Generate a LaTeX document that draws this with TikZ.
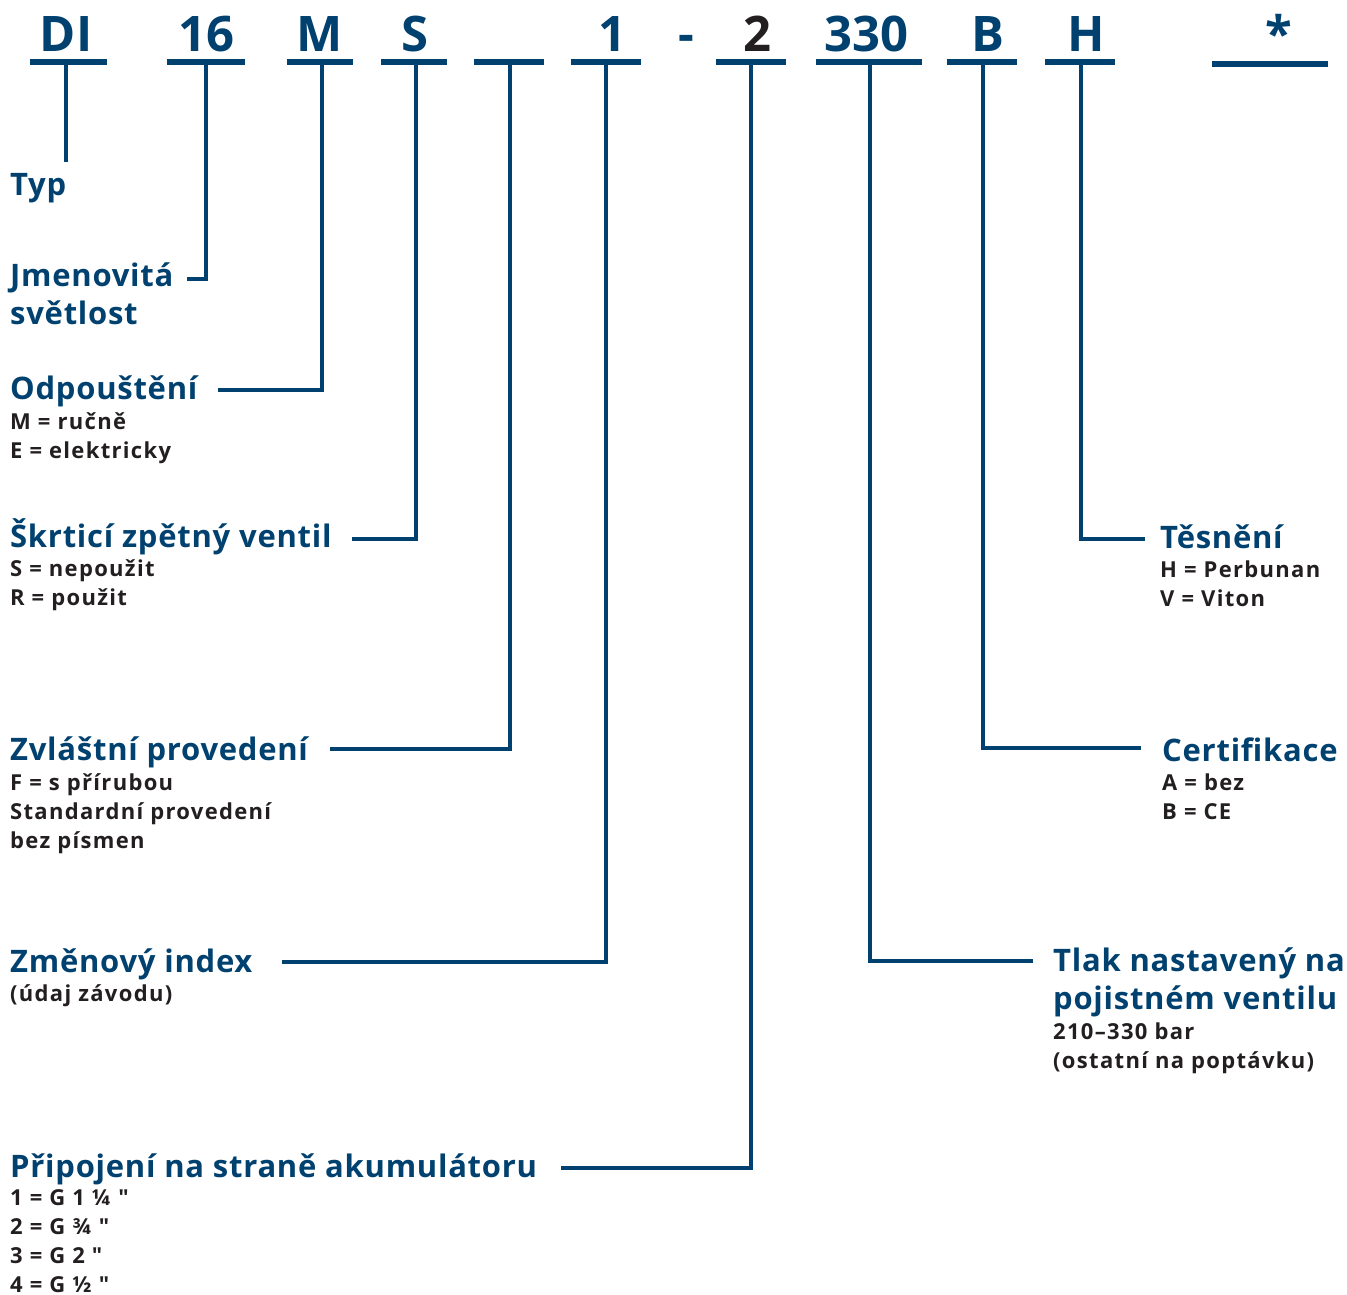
\documentclass[tikz,border=0pt]{standalone}
\usepackage{fontspec}
\newfontfamily\hydfont{Open Sans}
\newfontfamily\hydtitlefont{Open Sans}[LetterSpace=2.4]
\newfontfamily\hydnotefont{Open Sans}[LetterSpace=6]
\usetikzlibrary{positioning}
\definecolor{hydblue}{HTML}{00416F}
\definecolor{hydink}{HTML}{231F20}
\tikzset{
    code/.style ={
        font=\hydfont\fontsize{49}{49}\selectfont\bfseries,
        text=hydblue,
        anchor=base,
        inner sep=0pt
    },
    title/.style ={
        font=\hydtitlefont\fontsize{31}{38}\selectfont\bfseries,
        text=hydblue,
        anchor=base west,
        align=left,
        inner sep=0pt
    },
    note/.style ={
        font=\hydnotefont\fontsize{22}{29}\selectfont\bfseries,
        text=hydink,
        anchor=base west,
        align=left,
        inner sep=0pt
    },
    bar/.style ={
        line width=6pt,
        hydblue
    },
    lead/.style ={
        line width=4.5pt,
        hydblue
    }
}

\begin{document}
\begin{tikzpicture}[x=1pt,y=-1pt]
    \useasboundingbox (0,0) rectangle (1347,1295);
    % type code
    \node[code] (di) at(66,52) {DI};
    \node[code] (dn) at(206,52) {16};
    \node[code] (m) at(320,52) {M};
    \node[code] (s) at(415,52) {S};
    \node[code] (one) at(612,52) {1};
    \node[code] (dash) at(686,52) {-};
    \node[code,text=hydink] (two) at(757,52) {2};
    \node[code] (p) at(866,52) {330};
    \node[code] (b) at(988,52) {B};
    \node[code] (h) at(1086,52) {H};
    \node[code] (star) at(1279,52) {*};
    \draw[bar] (30,62) -- (107,62);
    \draw[bar] (167,62) -- (245,62);
    \draw[bar] (287,62) -- (353,62);
    \draw[bar] (381,62) -- (447,62);
    \draw[bar] (474,62) -- (544,62);
    \draw[bar] (571,62) -- (641,62);
    \draw[bar] (716,62) -- (786,62);
    \draw[bar] (816,62) -- (922,62);
    \draw[bar] (947,62) -- (1017,62);
    \draw[bar] (1045,62) -- (1115,62);
    \draw[bar] (1212,64) -- (1328,64);
    \coordinate (f-di) at(66,62);
    \coordinate (f-dn) at(206,62);
    \coordinate (f-m) at(322,62);
    \coordinate (f-s) at(416,62);
    \coordinate (f-x) at(510,62);
    \coordinate (f-one) at(606,62);
    \coordinate (f-two) at(751,62);
    \coordinate (f-p) at(870,62);
    \coordinate (f-b) at(983,62);
    \coordinate (f-h) at(1081,62);
    % left labels (base = last line)
    \node[title] (typ) at(10,196) {Typ};
    \node[title] (jm) at(10,324) {Jmenovitá\\světlost};
    \node[title] (od) at(10,399) {Odpouštění};
    \node[note] (od-n) at(10,458) {M = ručně\\E = elektricky};
    \node[title] (sk) at(10,547) {Škrticí zpětný ventil};
    \node[note] (sk-n) at(10,605) {S = nepoužit\\R = použit};
    \node[title] (zv) at(10,760) {Zvláštní provedení};
    \node[note] (zv-n) at(10,848) {F = s přírubou\\Standardní provedení\\bez písmen};
    \node[title] (zm) at(10,972) {Změnový index};
    \node[note] (zm-n) at(10,1001) {(údaj závodu)};
    \node[title] (pr) at(10,1177) {Připojení na straně akumulátoru};
    \node[note] (pr-n) at(10,1292) {1 = G 1 ¼ "\\2 = G ¾ "\\3 = G 2 "\\4 = G ½ "};
    % right labels
    \node[title] (ts) at(1160,548) {Těsnění};
    \node[note] (ts-n) at(1160,606) {H = Perbunan\\V = Viton};
    \node[title] (ce) at(1162,761) {Certifikace};
    \node[note] (ce-n) at(1162,819) {A = bez\\B = CE};
    \node[title] (tl) at(1053,1009) {Tlak nastavený na\\pojistném ventilu};
    \node[note] (tl-n) at(1053,1068) {210–330 bar\\(ostatní na poptávku)};
    % lead ends
    \coordinate (e-di) at(66,162);
    \coordinate (e-dn) at(187,279);
    \coordinate (e-m) at(218,390);
    \coordinate (e-s) at(352,539);
    \coordinate (e-x) at(330,749);
    \coordinate (e-one) at(282,962);
    \coordinate (e-two) at(561,1168);
    \coordinate (e-p) at(1033,961);
    \coordinate (e-b) at(1141,748);
    \coordinate (e-h) at(1145,539);
    % leads
    \draw[lead] (f-di) -- (e-di);
    \draw[lead] (f-dn) |- (e-dn);
    \draw[lead] (f-m) |- (e-m);
    \draw[lead] (f-s) |- (e-s);
    \draw[lead] (f-x) |- (e-x);
    \draw[lead] (f-one) |- (e-one);
    \draw[lead] (f-two) |- (e-two);
    \draw[lead] (f-p) |- (e-p);
    \draw[lead] (f-b) |- (e-b);
    \draw[lead] (f-h) |- (e-h);
\end{tikzpicture}
\end{document}
